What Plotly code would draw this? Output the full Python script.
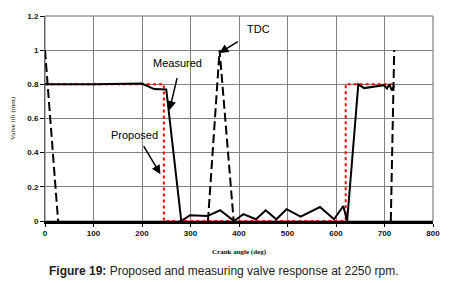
import plotly.graph_objects as go

# Data
proposed_x = [0, 245, 245, 620, 620, 720]
proposed_y = [0.8, 0.8, 0, 0, 0.8, 0.8]

measured_x = [0, 100, 200, 225, 250, 281, 299, 335, 361, 390, 409, 435, 455, 477, 498, 527,
              567, 596, 615, 623, 646, 658, 699, 705, 710, 715, 720]
measured_y = [0.8, 0.8, 0.805, 0.772, 0.77, 0, 0.034, 0.029, 0.063, 0, 0.04, 0.01, 0.063, 0.01,
              0.069, 0.025, 0.082, 0.01, 0.088, 0, 0.8, 0.778, 0.795, 0.775, 0.80, 0.765, 0.79]

tdc_x = [0, 27, None, 336, 360, 389, None, 713, 720]
tdc_y = [1.0, 0, None, 0, 1.0, 0, None, 0, 1.0]

x_ticks = [0, 100, 200, 300, 400, 500, 600, 700, 800]
y_ticks = [0, 0.2, 0.4, 0.6, 0.8, 1.0, 1.2]
y_tick_text = ["0", "0.2", "0.4", "0.6", "0.8", "1", "1.2"]

fig = go.Figure()
fig.add_trace(go.Scatter(x=proposed_x, y=proposed_y, mode="lines",
                         line=dict(color="#ff0000", width=2, dash="dot"), name="Proposed"))
fig.add_trace(go.Scatter(x=measured_x, y=measured_y, mode="lines",
                         line=dict(color="black", width=2), name="Measured"))
fig.add_trace(go.Scatter(x=tdc_x, y=tdc_y, mode="lines", connectgaps=False,
                         line=dict(color="black", width=2, dash="9px,4px"), name="TDC"))

tick_font = dict(family="Liberation Sans, Arial, sans-serif", size=8, color="#111", weight="bold")
fig.update_layout(
    width=452, height=283,
    margin=dict(l=45, r=18, t=12, b=62),
    paper_bgcolor="white", plot_bgcolor="white",
    showlegend=False,
    xaxis=dict(range=[0, 800], tickvals=x_ticks, showgrid=True, gridcolor="#808080", gridwidth=1,
               zeroline=False, showline=True, linecolor="black", linewidth=2.5,
               ticks="outside", ticklen=3, tickcolor="black", tickfont=tick_font,
               title=dict(text="<b>Crank angle (deg)</b>",
                          font=dict(family="Liberation Serif, Times New Roman, serif", size=7, color="#111"),
                          standoff=12)),
    yaxis=dict(range=[0, 1.2], tickvals=y_ticks, ticktext=y_tick_text, showgrid=True,
               gridcolor="#808080", gridwidth=1, zeroline=False, showline=True,
               linecolor="#666", linewidth=1, ticks="outside", ticklen=4, tickcolor="black",
               tickfont=tick_font,
               title=dict(text="Valve lift (mm)",
                          font=dict(family="Liberation Serif, Times New Roman, serif", size=7, color="#111"),
                          standoff=10)),
)

fig.add_shape(type="rect", xref="paper", yref="paper", x0=0, y0=0, x1=1, y1=1,
              line=dict(color="#666", width=1), layer="below")

ann_font = dict(family="Liberation Sans, Arial, sans-serif", size=11, color="black")
# arrows
for hx, hy, tx, ty in [(256.6, 0.649, 273, 0.845), (238, 0.274, 201.6, 0.447), (359.5, 0.983, 400.6, 1.056)]:
    fig.add_annotation(x=hx, y=hy, ax=tx, ay=ty, xref="x", yref="y", axref="x", ayref="y",
                       text="", showarrow=True, arrowhead=2, arrowsize=1.2, arrowwidth=1.5,
                       arrowcolor="black")
fig.add_annotation(x=273, y=0.925, text="Measured", showarrow=False, font=ann_font)
fig.add_annotation(x=183.5, y=0.506, text="Proposed", showarrow=False, font=ann_font)
fig.add_annotation(x=440, y=1.126, text="TDC", showarrow=False, font=ann_font)

fig.add_annotation(xref="paper", yref="paper", x=0.462, y=-0.244, yanchor="middle",
                   text="<b>Figure 19:</b> Proposed and measuring valve response at 2250 rpm.",
                   showarrow=False,
                   font=dict(family="Liberation Sans, Arial, sans-serif", size=12, color="#222"))

fig.write_html("out.html", config={"displayModeBar": False},
               post_script="document.body.style.margin='0';document.body.style.overflow='hidden';")
